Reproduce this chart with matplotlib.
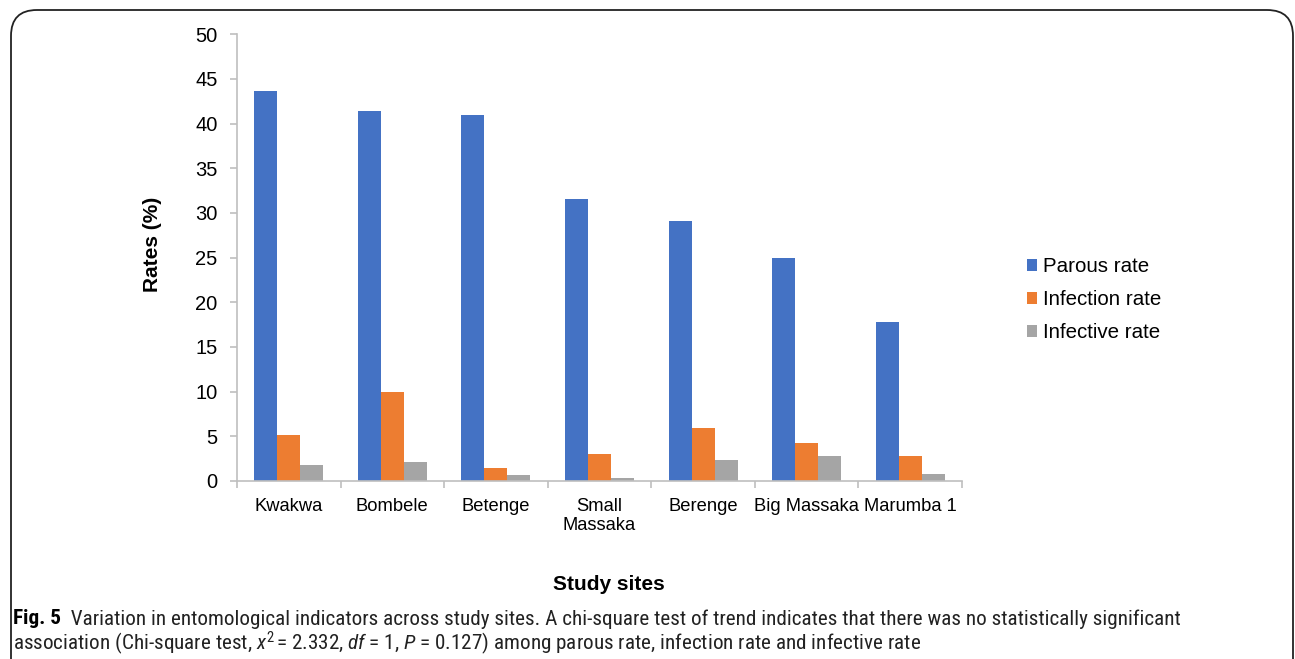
import matplotlib
matplotlib.use("Agg")
import matplotlib.pyplot as plt
from matplotlib import font_manager
from matplotlib.patches import FancyBboxPatch
import numpy as np

sites = ["Kwakwa", "Bombele", "Betenge", "Small\nMassaka", "Berenge", "Big Massaka", "Marumba 1"]
parous_rate = [43.7, 41.4, 41.0, 31.6, 29.1, 25.0, 17.8]
infection_rate = [5.1, 10.0, 1.4, 3.0, 5.9, 4.2, 2.8]
infective_rate = [1.8, 2.1, 0.7, 0.3, 2.4, 2.8, 0.8]
series_names = ["Parous rate", "Infection rate", "Infective rate"]
y_ticks = [0, 5, 10, 15, 20, 25, 30, 35, 40, 45, 50]

colors = ["#4472C4", "#ED7D31", "#A5A5A5"]

available = {f.name for f in font_manager.fontManager.ttflist}
base_font = "Liberation Sans" if "Liberation Sans" in available else "DejaVu Sans"
cap_font = base_font
for cand in ["Liberation Sans Narrow", "Roboto Condensed", "Open Sans Condensed"]:
    if cand in available:
        cap_font = cand
        break

plt.rcParams["font.family"] = [base_font, "DejaVu Sans"]
plt.rcParams["mathtext.fontset"] = "custom"
plt.rcParams["mathtext.rm"] = cap_font
plt.rcParams["mathtext.it"] = cap_font + ":italic"
plt.rcParams["mathtext.bf"] = cap_font + ":bold"

W, H = 1295, 659
fig = plt.figure(figsize=(W / 100, H / 100), dpi=100)

# rounded frame around the figure panel
frame = FancyBboxPatch((11 / W, -40 / H), (1293 - 11) / W, (H - 10 + 40) / H,
                       boxstyle="round,pad=0,rounding_size=0.02",
                       transform=fig.transFigure, facecolor="none",
                       edgecolor="#222222", linewidth=1.3, mutation_aspect=W / H)
fig.patches.append(frame)

ax = fig.add_axes([237 / W, (H - 481) / H, (962 - 237) / W, (481 - 34.3) / H])

x = np.arange(len(sites))
bw = 0.222
for i, (vals, name) in enumerate(zip([parous_rate, infection_rate, infective_rate], series_names)):
    ax.bar(x + (i - 1) * bw, vals, width=bw, color=colors[i], label=name, zorder=2)

ax.set_xlim(-0.5, len(sites) - 0.5)
ax.set_ylim(0, 50)
ax.set_yticks(y_ticks)
ax.set_xticks(x)
ax.set_xticklabels(sites, fontsize=13.2)
ax.set_xticks(np.arange(len(sites) + 1) - 0.5, minor=True)
ax.tick_params(axis="x", which="major", length=0, pad=12)
ax.tick_params(axis="x", which="minor", length=5, color="#bfbfbf", width=1.2)
ax.tick_params(axis="y", length=5, color="#bfbfbf", width=1.2, labelsize=14.5, pad=9)
for s in ["top", "right"]:
    ax.spines[s].set_visible(False)
for s in ["left", "bottom"]:
    ax.spines[s].set_color("#bfbfbf")
    ax.spines[s].set_linewidth(1.2)

fig.text(152 / W, 1 - 244 / H, "Rates (%)", rotation=90, fontsize=15, fontweight="bold",
         ha="center", va="center")
fig.text(609 / W, 1 - 584 / H, "Study sites", fontsize=15, fontweight="bold",
         ha="center", va="center")

leg = fig.legend(loc="upper left", bbox_to_anchor=(1027 / W, 1 - 257 / H), frameon=False,
                 fontsize=14.8, handlelength=0.5, handleheight=0.5, handletextpad=0.3,
                 labelspacing=0.68, borderaxespad=0, borderpad=0)

# caption
cap_size = 13.5
t1 = fig.text(13 / W, 1 - 619 / H, "Fig. 5", family=[cap_font, "DejaVu Sans"],
              fontweight="bold", fontsize=cap_size, va="center", ha="left")
t2 = fig.text(0, 0, "  Variation in entomological indicators across study sites. A chi-square test of trend "
              "indicates that there was no statistically significant",
              family=[cap_font, "DejaVu Sans"], fontsize=cap_size, ha="left", va="center",
              color="#222222")
t3 = fig.text(13 / W, 1 - 643 / H,
              "association (Chi-square test, $x^2\\!$ = 2.332, $df$ = 1, $P$ = 0.127) among parous rate, "
              "infection rate and infective rate",
              family=[cap_font, "DejaVu Sans"], fontsize=cap_size, va="center", ha="left",
              color="#222222")

fig.canvas.draw()
r = fig.canvas.get_renderer()
target = 1180 - 13
w = t1.get_window_extent(r).width + t2.get_window_extent(r).width
scale = target / w
for t in (t1, t2, t3):
    t.set_fontsize(cap_size * scale)
fig.canvas.draw()
b1 = t1.get_window_extent(r)
t2.set_position((b1.x1 / W, 1 - 619 / H))

fig.savefig("out.png", dpi=100)
